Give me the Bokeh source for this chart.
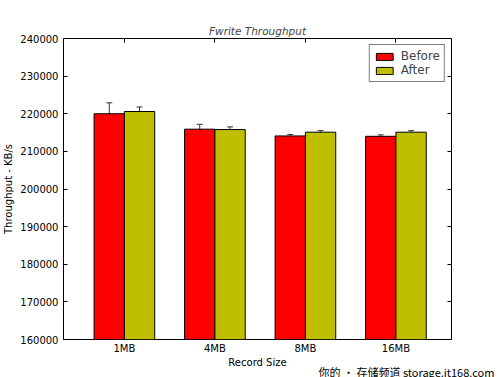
from bokeh.plotting import figure
from bokeh.models import (ColumnDataSource, FixedTicker, LinearAxis, Whisker, TeeHead,
                          Title, Legend, LegendItem, Range1d, NumeralTickFormatter,
                          CustomJSTickFormatter)
from bokeh.embed import file_html
from bokeh.resources import INLINE

categories = ["1MB", "4MB", "8MB", "16MB"]
before = [220000, 215900, 214100, 214000]
before_err = [2900, 1300, 400, 400]
after = [220600, 215800, 215100, 215100]
after_err = [1200, 700, 400, 400]

y_ticks = [160000, 170000, 180000, 190000, 200000, 210000, 220000, 230000, 240000]

FONT = "DejaVu Sans"
W = 0.335
OFF = 0.338
idx = list(range(len(categories)))
x_before = [i + OFF + W / 2 for i in idx]
x_after = [i + OFF + 1.5 * W for i in idx]
x_center = [i + OFF + W for i in idx]

p = figure(width=500, height=377, output_backend="svg", toolbar_location=None,
           x_range=Range1d(0, 4.287), y_range=Range1d(160000, 240000),
           min_border_left=10, min_border_right=49, min_border_top=38, min_border_bottom=38)
p.background_fill_color = "white"
p.border_fill_color = "white"
p.outline_line_color = "black"
p.outline_line_width = 1
p.xgrid.visible = False
p.ygrid.visible = False

p.title.text = "Fwrite Throughput"
p.title.text_font = FONT
p.title.text_font_style = "italic"
p.title.text_font_size = "10.5px"
p.title.align = "center"
p.title.offset = 0
p.title.standoff = 4

src_b = ColumnDataSource(dict(x=x_before, top=before, lo=[v - e for v, e in zip(before, before_err)],
                              hi=[v + e for v, e in zip(before, before_err)]))
src_a = ColumnDataSource(dict(x=x_after, top=after, lo=[v - e for v, e in zip(after, after_err)],
                              hi=[v + e for v, e in zip(after, after_err)]))

rb = p.vbar(x="x", top="top", bottom=160000, width=W, source=src_b,
            fill_color="#ff0000", line_color="black", line_width=1)
ra = p.vbar(x="x", top="top", bottom=160000, width=W, source=src_a,
            fill_color="#bfbf00", line_color="black", line_width=1)

for src in (src_b, src_a):
    w = Whisker(base="x", lower="lo", upper="hi", source=src, line_color="#333333", line_width=1,
                upper_head=TeeHead(size=6, line_color="#333333"),
                lower_head=TeeHead(size=6, line_color="#333333"))
    p.add_layout(w)

# axes
xa = p.xaxis[0]
xa.ticker = FixedTicker(ticks=x_center)
xa.major_label_overrides = {x: c for x, c in zip(x_center, categories)}
xa.axis_label = "Record Size"
ya = p.yaxis[0]
ya.ticker = FixedTicker(ticks=y_ticks)
ya.formatter = NumeralTickFormatter(format="0")
ya.axis_label = "Throughput - KB/s"

for ax in (xa, ya):
    ax.axis_line_color = None
    ax.major_tick_in = 4
    ax.major_tick_out = 0
    ax.minor_tick_line_color = None
    ax.major_label_text_font = FONT
    ax.major_label_text_font_size = "10px"
    ax.major_label_text_color = "black"
    ax.axis_label_text_font = FONT
    ax.axis_label_text_font_size = "10px"
    ax.axis_label_text_font_style = "normal"
    ax.axis_label_text_color = "black"
    ax.major_tick_line_color = "black"
xa.major_label_standoff = 3
xa.axis_label_standoff = 0
ya.major_label_standoff = 5
ya.axis_label_standoff = 3

blank = CustomJSTickFormatter(code="return ''")
top_ax = LinearAxis(ticker=FixedTicker(ticks=x_center), formatter=blank,
                    axis_line_color=None, major_tick_in=4, major_tick_out=0,
                    minor_tick_line_color=None, major_label_standoff=0)
right_ax = LinearAxis(ticker=FixedTicker(ticks=y_ticks), formatter=blank,
                      axis_line_color=None, major_tick_in=4, major_tick_out=0,
                      minor_tick_line_color=None, major_label_standoff=0)
p.add_layout(top_ax, "above")
p.add_layout(right_ax, "right")

legend = Legend(items=[LegendItem(label="Before", renderers=[rb]),
                       LegendItem(label="After", renderers=[ra])],
                location="top_right", label_text_font=FONT, label_text_font_size="12px",
                border_line_color="black", border_line_width=1,
                glyph_width=21, glyph_height=9, label_height=10, spacing=0,
                padding=4, margin=6, label_standoff=6)
p.add_layout(legend)

wm = Title(text="你的 • 存储频道 storage.it168.com", align="left", offset=255,
           standoff=-18, vertical_align="bottom", text_font="Noto Sans CJK SC",
           text_font_size="11px", text_font_style="normal", text_color="black")
p.add_layout(wm, "below")

open("out.html", "w").write(file_html(p, INLINE))
